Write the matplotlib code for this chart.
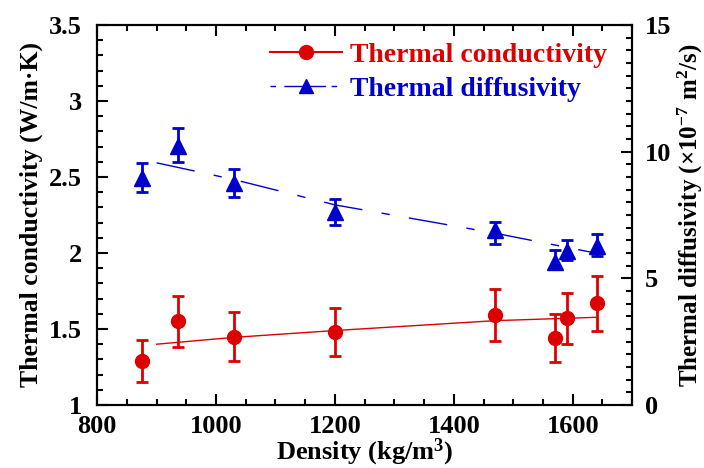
import matplotlib
matplotlib.use("Agg")
import matplotlib.pyplot as plt
from matplotlib.ticker import MultipleLocator

plt.rcParams['font.family'] = ['Liberation Serif', 'DejaVu Serif']
plt.rcParams['font.weight'] = 'bold'
plt.rcParams['axes.labelweight'] = 'bold'
plt.rcParams['mathtext.default'] = 'regular'

# data
density = [876, 936, 1030, 1200, 1470, 1570, 1590, 1640]
cond = [1.29, 1.55, 1.45, 1.48, 1.59, 1.44, 1.57, 1.67]
cond_lo = [1.15, 1.38, 1.29, 1.325, 1.42, 1.285, 1.40, 1.49]
cond_hi = [1.43, 1.72, 1.61, 1.64, 1.76, 1.60, 1.74, 1.85]
diff = [8.95, 10.24, 8.75, 7.63, 6.91, 5.66, 6.09, 6.28]
diff_lo = [8.42, 9.58, 8.20, 7.10, 6.37, 5.36, 5.72, 5.89]
diff_hi = [9.54, 10.95, 9.32, 8.14, 7.24, 6.12, 6.51, 6.75]

# fitted trend lines
fit_x = [900, 1030, 1200, 1470, 1640]
cond_fit = [1.40, 1.445, 1.49, 1.555, 1.577]
diff_fit = [9.56, 8.90, 7.90, 6.78, 5.99]

red = '#dd0000'
blue = '#0000cc'

fig = plt.figure(figsize=(7.04, 4.68), dpi=100)
ax = fig.add_axes([0.138, 0.1346, 0.76, 0.812])
ax2 = ax.twinx()

err_c = [[c - l for c, l in zip(cond, cond_lo)], [h - c for c, h in zip(cond, cond_hi)]]
err_d = [[d - l for d, l in zip(diff, diff_lo)], [h - d for d, h in zip(diff, diff_hi)]]

ax.errorbar(density, cond, yerr=err_c, fmt='o', color=red, ms=10,
            elinewidth=2, capsize=4, capthick=2, zorder=3)
ax.plot(fit_x, cond_fit, '-', color=red, lw=1)
ax2.errorbar(density, diff, yerr=err_d, fmt='^', color=blue, ms=11,
             elinewidth=2, capsize=4, capthick=2, zorder=3)
ax2.plot(fit_x, diff_fit, color=blue, lw=1, dashes=(28, 14, 6, 14))

# legend proxies
h1, = ax.plot([], [], '-o', color=red, ms=10, lw=1.5)
h2, = ax.plot([], [], color=blue, marker='^', ms=10, lw=1, dashes=(4, 6, 30, 4))
leg = ax.legend([h1, h2], ['Thermal conductivity', 'Thermal diffusivity'],
                loc='upper right', bbox_to_anchor=(1.0, 1.02), frameon=False,
                fontsize=20, handlelength=2.6, handletextpad=0.3, labelspacing=0.3)
for t, c in zip(leg.get_texts(), [red, blue]):
    t.set_color(c)

ax.set_xlim(800, 1700)
ax.set_ylim(1, 3.5)
ax2.set_ylim(0, 15)
ax.xaxis.set_major_locator(MultipleLocator(200))
ax.xaxis.set_minor_locator(MultipleLocator(50))
ax.yaxis.set_major_locator(MultipleLocator(0.5))
ax.yaxis.set_minor_locator(MultipleLocator(0.1))
ax2.yaxis.set_major_locator(MultipleLocator(5))
ax2.yaxis.set_minor_locator(MultipleLocator(0.5))
ax.set_yticks([1, 1.5, 2, 2.5, 3, 3.5])
ax.set_yticklabels(['1', '1.5', '2', '2.5', '3', '3.5'])

ax.tick_params(axis='x', which='both', direction='in', top=True, labelsize=19, pad=7)
ax.tick_params(axis='y', which='both', direction='in', labelsize=19, pad=11)
ax2.tick_params(axis='y', which='both', direction='in', labelsize=19, pad=9)
for a in (ax, ax2):
    a.tick_params(which='major', length=8, width=1.5)
    a.tick_params(which='minor', length=4.5, width=1.5)
    for s in a.spines.values():
        s.set_linewidth(1.5)

ax.set_xlabel('Density (kg/m$^3$)', fontsize=19, labelpad=-1)
ax.set_ylabel('Thermal conductivity (W/m·K)', fontsize=18.5, labelpad=4)
ax2.set_ylabel('Thermal diffusivity (×10$^{-7}$ m$^2$/s)', fontsize=18, labelpad=3)

fig.savefig('out.png', dpi=100)
